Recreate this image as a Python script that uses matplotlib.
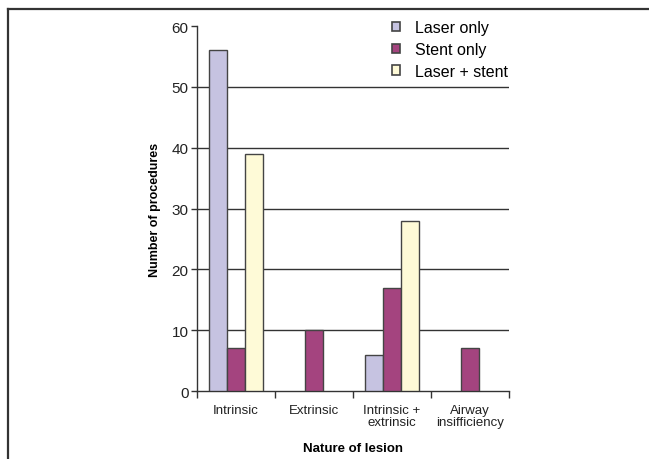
import matplotlib.pyplot as plt
import numpy as np
from matplotlib.lines import Line2D

plt.rcParams['font.family'] = ['Liberation Sans', 'DejaVu Sans']

categories = ['Intrinsic', 'Extrinsic', 'Intrinsic +\nextrinsic', 'Airway\ninsifficiency']
series = ['Laser only', 'Stent only', 'Laser + stent']
laser_only = [56, 0, 6, 0]
stent_only = [7, 10, 17, 7]
laser_stent = [39, 0, 28, 0]
colors = ['#c6c3e1', '#a4447f', '#fefad7']

fig = plt.figure(figsize=(6.49, 4.60), dpi=100)
ax = fig.add_axes([0.3035, 0.1478, 0.4808, 0.7935])

x = np.arange(len(categories))
w = 0.227
for k, vals in enumerate([laser_only, stent_only, laser_stent]):
    xs = [xi + (k - 1) * w for xi, v in zip(x, vals) if v > 0]
    vs = [v for v in vals if v > 0]
    ax.bar(xs, vs, width=w, color=colors[k], edgecolor='#444444',
           linewidth=1.0, label=series[k], zorder=3)

ax.set_xlim(-0.5, len(categories) - 0.5)
ax.set_ylim(0, 60)
ax.set_yticks(range(0, 61, 10))
for yv in range(10, 60, 10):
    ax.axhline(yv, color='#333333', linewidth=1.0, zorder=1)

ax.set_xticks(x)
ax.set_xticklabels(categories, fontsize=9.5, color='#222222', linespacing=1.1)
ax.set_xticks(np.arange(-0.5, len(categories)), minor=True)
ax.tick_params(axis='x', which='major', length=0, pad=9)
ax.tick_params(axis='x', which='minor', length=5, width=1, color='#333333')
ax.tick_params(axis='y', length=4, width=1, color='#333333', labelsize=11,
               labelcolor='#222222', pad=2)

for s in ['top', 'right']:
    ax.spines[s].set_visible(False)
for s in ['left', 'bottom']:
    ax.spines[s].set_color('#333333')
    ax.spines[s].set_linewidth(1.0)

ax.set_ylabel('Number of procedures', fontsize=9, fontweight='bold', labelpad=8)
ax.set_xlabel('Nature of lesion', fontsize=9.5, fontweight='bold', labelpad=10)

leg = ax.legend(loc='upper left', bbox_to_anchor=(0.587, 0.978),
                bbox_transform=fig.transFigure, frameon=False,
                fontsize=11.5, handlelength=0.5, handleheight=0.5, handletextpad=0.95,
                labelspacing=0.42, borderpad=0.2)
for h in leg.legend_handles:
    h.set_linewidth(1.2)

# outer frame
fig.add_artist(Line2D([8 / 649, 1.0], [1 - 10 / 460, 1 - 10 / 460],
                      transform=fig.transFigure, color='#333333', linewidth=1.6))
fig.add_artist(Line2D([8 / 649, 8 / 649], [0.0, 1 - 10 / 460],
                      transform=fig.transFigure, color='#333333', linewidth=1.6))

plt.savefig('out.png', dpi=100)
